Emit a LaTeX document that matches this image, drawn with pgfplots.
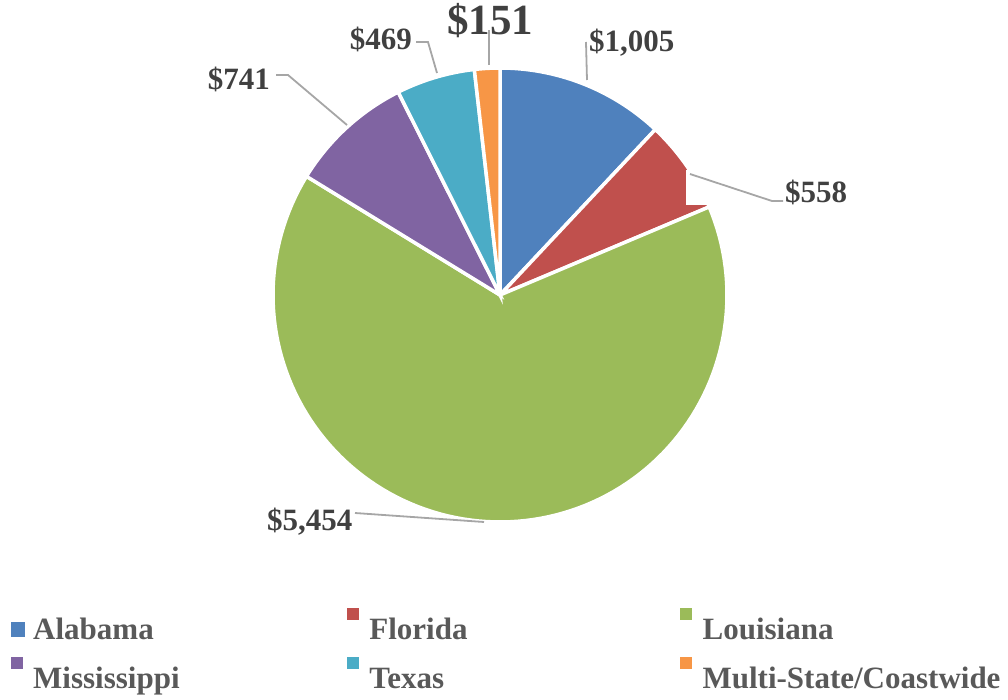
\documentclass[border=0pt]{standalone}
\usepackage{pgfplots}
\pgfplotsset{compat=1.18}
\usepackage{pgfplotstable}
\usepackage{fontspec}
\setmainfont{Liberation Serif}
\definecolor{cAL}{HTML}{4F81BD}
\definecolor{cFL}{HTML}{C0504D}
\definecolor{cLA}{HTML}{9BBB59}
\definecolor{cMS}{HTML}{8064A2}
\definecolor{cTX}{HTML}{4BACC6}
\definecolor{cMU}{HTML}{F79646}
\definecolor{labtext}{HTML}{404040}
\definecolor{legtext}{HTML}{595959}
\definecolor{leader}{HTML}{A6A6A6}
\pgfplotstableread{
name value col
Alabama 1005 cAL
Florida 558 cFL
Louisiana 5454 cLA
Mississippi 741 cMS
Texas 469 cTX
Multi 151 cMU
}\piedata
\pgfplotsset{
  sqA/.style={legend image code/.code={\fill[##1, draw=none] (0bp,2bp) rectangle (14bp,17bp); \path (22bp,0bp);}},
  sqB/.style={legend image code/.code={\fill[##1, draw=none] (0bp,19bp) rectangle (12bp,31bp); \path (22bp,0bp);}},
}
\newcommand{\lab}{\bfseries\fontsize{31bp}{37bp}\selectfont}
\begin{document}
\begin{tikzpicture}
\begin{axis}[
  scale only axis, width=1008bp, height=700bp,
  xmin=0, xmax=1008, ymin=0, ymax=700,
  hide axis, clip=false,
  legend columns=3,
  legend style={at={(axis cs:11,93)}, anchor=north west, draw=none, fill=none,
    inner sep=0pt, outer sep=0pt, column sep=0pt, row sep=10bp,
    nodes={inner sep=0pt, text height=32bp, text depth=7bp, text=legtext,
      font=\bfseries\fontsize{31bp}{37bp}\selectfont},
    cells={anchor=base west}},
]
% total
\pgfmathsetmacro{\tot}{0}
\pgfplotsforeachungrouped \i in {0,...,5}{%
  \pgfplotstablegetelem{\i}{value}\of\piedata
  \pgfmathsetmacro{\tot}{\tot+\pgfplotsretval}%
}
\pgfmathsetmacro{\cum}{0}
\pgfplotsforeachungrouped \i in {0,...,5}{%
  \pgfplotstablegetelem{\i}{value}\of\piedata \let\v\pgfplotsretval
  \pgfplotstablegetelem{\i}{col}\of\piedata \let\c\pgfplotsretval
  \pgfmathsetmacro{\a}{90-360*(\cum/\tot)}%
  \pgfmathsetmacro{\b}{90-360*((\cum+\v)/\tot)}%
  \edef\temp{\noexpand\addplot[forget plot, fill=\c, draw=white, line width=3.5bp,
    domain=\b:\a, samples=120, variable=\noexpand\t]
    ({500+227*cos(\noexpand\t)},{405+227*sin(\noexpand\t)}) -- (axis cs:500,405) -- cycle;}%
  \temp
  \pgfmathsetmacro{\cum}{\cum+\v}%
}
% white box near Florida label
\fill[white] (axis cs:686,495) rectangle (axis cs:712,530);
% leader lines
\draw[leader, line width=1.8bp] (axis cs:489,635) -- (axis cs:489,670);
\draw[leader, line width=1.8bp] (axis cs:416,658) -- (axis cs:428,658) -- (axis cs:437,627);
\draw[leader, line width=1.8bp] (axis cs:587,620) -- (axis cs:586,658);
\draw[leader, line width=1.8bp] (axis cs:690,526) -- (axis cs:772,499) -- (axis cs:783,499);
\draw[leader, line width=1.8bp] (axis cs:276,625) -- (axis cs:288,625) -- (axis cs:347,575);
\draw[leader, line width=1.8bp] (axis cs:355,187) -- (axis cs:484,178);
% data labels
\node[anchor=base west, inner sep=0pt, text=labtext, font=\lab] at (axis cs:589,648) {\$1,005};
\node[anchor=base, inner sep=0pt, text=labtext, font=\bfseries\fontsize{43bp}{50bp}\selectfont] at (axis cs:490,665) {\$151};
\node[anchor=base east, inner sep=0pt, text=labtext, font=\lab] at (axis cs:412,650) {\$469};
\node[anchor=base west, inner sep=0pt, text=labtext, font=\lab] at (axis cs:785,497) {\$558};
\node[anchor=base east, inner sep=0pt, text=labtext, font=\lab] at (axis cs:270,610) {\$741};
\node[anchor=base west, inner sep=0pt, text=labtext, font=\lab] at (axis cs:267,170) {\$5,454};
% legend
\addlegendimage{sqA, fill=cAL}
\addlegendentry{\makebox[314bp][l]{Alabama}}
\addlegendimage{sqB, fill=cFL}
\addlegendentry{\makebox[311bp][l]{Florida}}
\addlegendimage{sqB, fill=cLA}
\addlegendentry{Louisiana}
\addlegendimage{sqB, fill=cMS}
\addlegendentry{\makebox[314bp][l]{Mississippi}}
\addlegendimage{sqB, fill=cTX}
\addlegendentry{\makebox[311bp][l]{Texas}}
\addlegendimage{sqB, fill=cMU}
\addlegendentry{Multi-State/Coastwide}
\end{axis}
\pgfresetboundingbox
\path (0,0) rectangle (1008bp,700bp);
\end{tikzpicture}
\end{document}
